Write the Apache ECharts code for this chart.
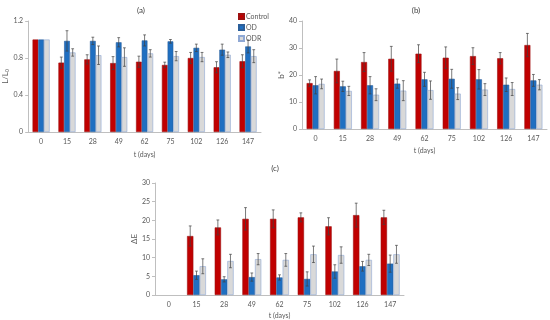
<!DOCTYPE html>
<html>
<head>
<meta charset="utf-8">
<script src="https://cdn.jsdelivr.net/npm/echarts@6/dist/echarts.min.js"></script>
<style>html,body{margin:0;padding:0;background:#fff}#c{width:550px;height:320px}</style>
</head>
<body>
<div id="c"></div>
<script>
// categories (t, days)
var days = ['0','15','28','49','62','75','102','126','147'];
var seriesNames = ['Control','OD','ODR'];

// (a) L/L0
var lControl    = [1.00, 0.75, 0.785, 0.745, 0.76, 0.725, 0.80, 0.70, 0.765];
var lControlErr = [0,    0.06, 0.05,  0.07,  0.06, 0.03,  0.06, 0.06, 0.07];
var lOD         = [1.00, 0.985, 0.985, 0.97, 0.99, 0.98, 0.91, 0.89, 0.925];
var lODErr      = [0,    0.11, 0.04,  0.05,  0.06, 0.02,  0.04, 0.06, 0.07];
var lODR        = [1.00, 0.86, 0.83,  0.81,  0.85, 0.82,  0.81, 0.835, 0.82];
var lODRErr     = [0,    0.04, 0.10,  0.10,  0.04, 0.05,  0.05, 0.03, 0.07];

// (b) b*
var bControl    = [17.0, 21.5, 24.8, 26.0, 27.9, 26.4, 27.0, 26.2, 31.1];
var bControlErr = [1.2,  4.4,  3.5,  4.6,  3.3,  4.0,  3.1,  2.1,  4.3];
var bOD         = [16.2, 15.8, 16.2, 16.8, 18.4, 18.6, 18.4, 16.4, 18.0];
var bODErr      = [3.2,  1.9,  3.2,  1.7,  2.6,  3.5,  3.6,  2.5,  2.2];
var bODR        = [16.7, 14.1, 12.7, 14.2, 14.4, 13.1, 14.6, 14.8, 16.4];
var bODRErr     = [1.8,  1.7,  2.2,  3.7,  3.4,  2.2,  2.2,  2.4,  1.9];

// (c) ΔE (no value at day 0)
var eControl    = [null, 15.8, 18.1, 20.4, 20.4, 20.8, 18.4, 21.4, 20.8];
var eControlErr = [null, 2.7,  2.0,  3.0,  2.4,  1.2,  2.3,  3.2,  1.9];
var eOD         = [null, 5.3,  4.2,  4.8,  4.7,  4.3,  6.3,  7.7,  8.4];
var eODErr      = [null, 1.1,  0.7,  1.1,  0.7,  1.9,  1.8,  1.3,  2.3];
var eODR        = [null, 7.7,  9.1,  9.6,  9.4,  10.9, 10.7, 9.4,  10.9];
var eODRErr     = [null, 2.0,  1.8,  1.5,  1.7,  2.2,  2.2,  1.5,  2.4];

// axis ticks
var yTicksA = {min: 0, max: 1.2, interval: 0.4};
var yTicksB = {min: 0, max: 40, interval: 10};
var yTicksC = {min: 0, max: 30, interval: 5};

var FONT = 'Lato, "Open Sans", "DejaVu Sans", sans-serif';
var TXT = '#595959';
var AXC = '#bfbfbf';
var fills = ['#C00000', '#1F6FC1', '#D9D9D9'];
var borders = ['#9E1010', '#2A5E9A', '#8FA8D4'];

var panels = [
  {vals: [lControl, lOD, lODR], errs: [lControlErr, lODErr, lODRErr], y: yTicksA, w: 5.7,
   grid: {left: 27, top: 21, width: 234, height: 111}, yname: 'L/L{sub|0}', ygap: 15, xgap: 19},
  {vals: [bControl, bOD, bODR], errs: [bControlErr, bODErr, bODRErr], y: yTicksB, w: 6,
   grid: {left: 302, top: 21, width: 245, height: 108}, yname: 'b*', ygap: 17, xgap: 18},
  {vals: [eControl, eOD, eODR], errs: [eControlErr, eODErr, eODRErr], y: yTicksC, w: 6.3,
   grid: {left: 155, top: 183, width: 249, height: 114}, yname: 'ΔE', ygap: 12, xgap: 17}
];

var grids = [], xAxes = [], yAxes = [], series = [];
panels.forEach(function (p, pi) {
  grids.push(p.grid);
  xAxes.push({
    type: 'category', gridIndex: pi, data: days,
    axisLine: {lineStyle: {color: AXC, width: 1}},
    axisTick: {show: false},
    axisLabel: {color: TXT, fontSize: 7, fontFamily: FONT, margin: 6},
    name: 't (days)', nameLocation: 'middle', nameGap: p.xgap,
    nameTextStyle: {color: TXT, fontSize: 7, fontFamily: FONT}
  });
  yAxes.push({
    type: 'value', gridIndex: pi, min: p.y.min, max: p.y.max, interval: p.y.interval,
    axisLine: {show: true, lineStyle: {color: AXC, width: 1}},
    axisTick: {show: true, length: 3, lineStyle: {color: AXC}},
    splitLine: {show: false},
    axisLabel: {color: TXT, fontSize: 7, fontFamily: FONT, margin: 5},
    name: p.yname, nameLocation: 'middle', nameGap: p.ygap, nameRotate: 90,
    nameTextStyle: {color: TXT, fontSize: 8, fontFamily: FONT,
      rich: {sub: {fontSize: 5, verticalAlign: 'bottom', color: TXT, padding: [4, 0, 0, 0]}}}
  });
  var w = p.w;
  for (var s = 0; s < 3; s++) {
    series.push({
      type: 'bar', name: seriesNames[s], xAxisIndex: pi, yAxisIndex: pi,
      data: p.vals[s].map(function (v) { return v == null ? '-' : v; }),
      barWidth: w, barGap: '0%',
      itemStyle: {color: fills[s], borderColor: borders[s], borderWidth: 0.6},
      emphasis: {disabled: true}, animation: false, z: 2
    });
  }
  for (var s2 = 0; s2 < 3; s2++) {
    (function (si) {
      var data = p.vals[si].map(function (v, i) { return [i, v == null ? 0 : v, p.errs[si][i] || 0]; });
      series.push({
        type: 'custom', xAxisIndex: pi, yAxisIndex: pi, data: data,
        encode: {x: 0, y: 1}, silent: true, animation: false, z: 5,
        renderItem: function (params, api) {
          var i = api.value(0), v = api.value(1), e = api.value(2);
          if (!e) return null;
          var c = api.coord([i, v]);
          var x = c[0] + (si - 1) * w;
          var t = api.coord([i, v + e])[1];
          var b = api.coord([i, v - e])[1];
          var cap = 1.4;
          var st = {stroke: '#404040', lineWidth: 0.7};
          return {type: 'group', children: [
            {type: 'line', shape: {x1: x, y1: t, x2: x, y2: b}, style: st},
            {type: 'line', shape: {x1: x - cap, y1: t, x2: x + cap, y2: t}, style: st},
            {type: 'line', shape: {x1: x - cap, y1: b, x2: x + cap, y2: b}, style: st}
          ]};
        }
      });
    })(s2);
  }
});

var chart = echarts.init(document.getElementById('c'), null, {renderer: 'canvas'});
chart.setOption({
  backgroundColor: '#fff',
  animation: false,
  title: [
    {text: '(a)', left: 136, top: 1, textAlign: 'center', textStyle: {fontSize: 8, fontWeight: 'normal', color: '#404040', fontFamily: FONT}},
    {text: '(b)', left: 411, top: 1, textAlign: 'center', textStyle: {fontSize: 8, fontWeight: 'normal', color: '#404040', fontFamily: FONT}},
    {text: '(c)', left: 270, top: 159, textAlign: 'center', textStyle: {fontSize: 8, fontWeight: 'normal', color: '#404040', fontFamily: FONT}}
  ],
  legend: {
    data: seriesNames, orient: 'vertical', left: 233, top: 8,
    itemWidth: 5, itemHeight: 5, itemGap: 4, icon: 'rect',
    textStyle: {fontSize: 7, color: TXT, fontFamily: FONT, padding: [0, 0, 0, -3]},
    selectedMode: false
  },
  grid: grids, xAxis: xAxes, yAxis: yAxes, series: series
});
</script>
</body>
</html>
